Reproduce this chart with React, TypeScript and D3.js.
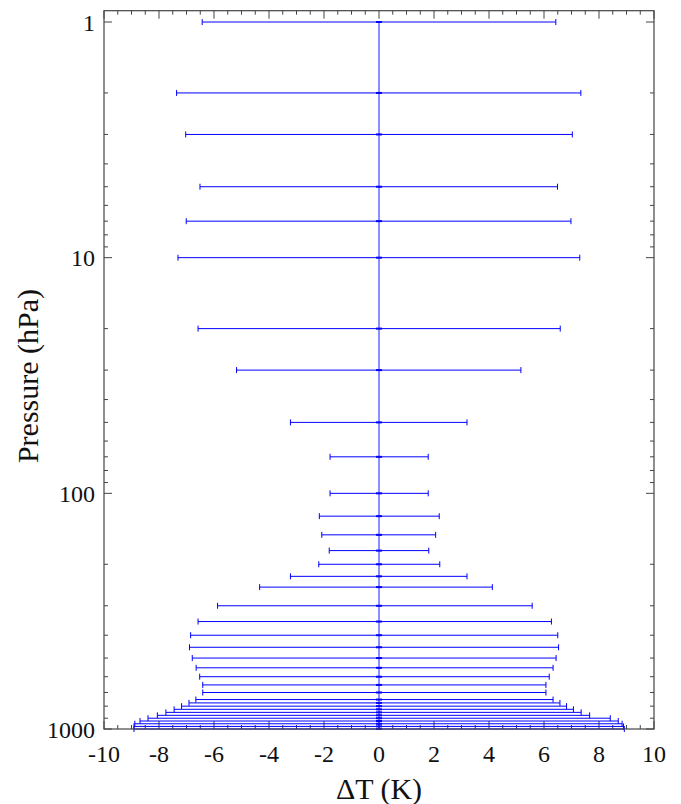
import React from "react";
import * as d3 from "d3";

const levels = [1, 2, 3, 5, 7, 10, 20, 30, 50, 70, 100, 125, 150, 175, 200, 225, 250, 300, 350, 400, 450, 500, 550, 600, 650, 700, 750, 775, 800, 825, 850, 875, 900, 925, 950, 975, 1000];
const lower = [-6.43, -7.36, -7.03, -6.51, -7.01, -7.31, -6.58, -5.18, -3.22, -1.78, -1.78, -2.17, -2.08, -1.81, -2.19, -3.22, -4.34, -5.87, -6.58, -6.85, -6.89, -6.79, -6.65, -6.52, -6.41, -6.41, -6.66, -6.91, -7.18, -7.45, -7.75, -8.06, -8.4, -8.69, -8.88, -8.91, -8.91];
const upper = [6.43, 7.34, 7.03, 6.49, 6.98, 7.30, 6.59, 5.16, 3.20, 1.79, 1.79, 2.19, 2.06, 1.81, 2.21, 3.20, 4.12, 5.57, 6.27, 6.50, 6.53, 6.44, 6.33, 6.19, 6.07, 6.07, 6.33, 6.58, 6.82, 7.07, 7.35, 7.66, 8.41, 8.70, 8.84, 8.89, 8.92];
const xTickLabels = [-10, -8, -6, -4, -2, 0, 2, 4, 6, 8, 10];
const yTickLabels = [1, 10, 100, 1000];

const W = 681;
const H = 804;
const left = 104;
const right = 654;
const top = 10.7;
const bottom = 729;

const font = '"Liberation Serif", LiberationSerif, Tinos, "Noto Serif", "DejaVu Serif", "Nimbus Roman", "Nimbus Roman No9 L", FreeSerif, "Times New Roman", Times, serif';

export default function App() {
  const x = d3.scaleLinear().domain([-10, 10]).range([left, right]);
  const y = d3.scaleLog().domain([1, 1000]).range([22, bottom]);
  const frameColor = "#444";

  const xMinor = d3.range(-10, 10.001, 0.5);
  const yMinor: number[] = [];
  [1, 10, 100].forEach((d) => {
    for (let k = 2; k <= 9; k++) yMinor.push(d * k);
  });

  const textStyle: React.CSSProperties = { fontFamily: font };

  return (
    <svg width={W} height={H} style={{ position: "absolute", left: 0, top: 0, background: "#fff" }}>
      {xMinor.map((v, i) => {
        const major = Math.abs(v % 2) < 1e-9;
        const len = major ? 8 : 4;
        const xx = x(v);
        return (
          <g key={"xt" + i}>
            <line x1={xx} x2={xx} y1={bottom} y2={bottom - len} stroke={frameColor} strokeWidth={1} />
            <line x1={xx} x2={xx} y1={top} y2={top + len} stroke={frameColor} strokeWidth={1} />
          </g>
        );
      })}
      {yTickLabels.map((v) => (
        <g key={"ym" + v}>
          <line x1={left} x2={left + 8} y1={y(v)} y2={y(v)} stroke={frameColor} strokeWidth={1} />
          <line x1={right} x2={right - 8} y1={y(v)} y2={y(v)} stroke={frameColor} strokeWidth={1} />
        </g>
      ))}
      {yMinor.map((v) => (
        <g key={"yn" + v}>
          <line x1={left} x2={left + 4} y1={y(v)} y2={y(v)} stroke={frameColor} strokeWidth={1} />
          <line x1={right} x2={right - 4} y1={y(v)} y2={y(v)} stroke={frameColor} strokeWidth={1} />
        </g>
      ))}
      <line x1={x(0)} x2={x(0)} y1={y(levels[0])} y2={y(levels[levels.length - 1])} stroke="#0000ff" strokeOpacity={0.6} strokeWidth={1.5} />
      {levels.map((p, i) => {
        const yy = y(p);
        const xl = x(lower[i]);
        const xr = x(upper[i]);
        return (
          <g key={"b" + i}>
            <line x1={xl} x2={xr} y1={yy} y2={yy} stroke="#0000ff" strokeWidth={1} />
            <line x1={xl} x2={xl} y1={yy - 3} y2={yy + 3} stroke="#0000ff" strokeWidth={1} />
            <line x1={xr} x2={xr} y1={yy - 3} y2={yy + 3} stroke="#0000ff" strokeWidth={1} />
            <rect x={x(0) - 3} y={yy - 1} width={6} height={2} fill="#0000ff" />
          </g>
        );
      })}
      <rect x={left} y={top} width={right - left} height={bottom - top} fill="none" stroke={frameColor} strokeWidth={1.2} />
      {xTickLabels.map((v) => (
        <text key={"xl" + v} x={x(v)} y={762} textAnchor="middle" style={textStyle} fontSize={24} fill="#111">
          {v}
        </text>
      ))}
      {yTickLabels.map((v) => (
        <text key={"yl" + v} x={95} y={y(v) + 8.5} textAnchor="end" style={textStyle} fontSize={24} fill="#111">
          {v}
        </text>
      ))}
      <text x={x(0)} y={799} textAnchor="middle" style={textStyle} fontSize={30} fill="#111">
        ΔT (K)
      </text>
      <text transform={`translate(37.5, 376) rotate(-90)`} textAnchor="middle" style={textStyle} fontSize={30} fill="#111">
        Pressure (hPa)
      </text>
    </svg>
  );
}
